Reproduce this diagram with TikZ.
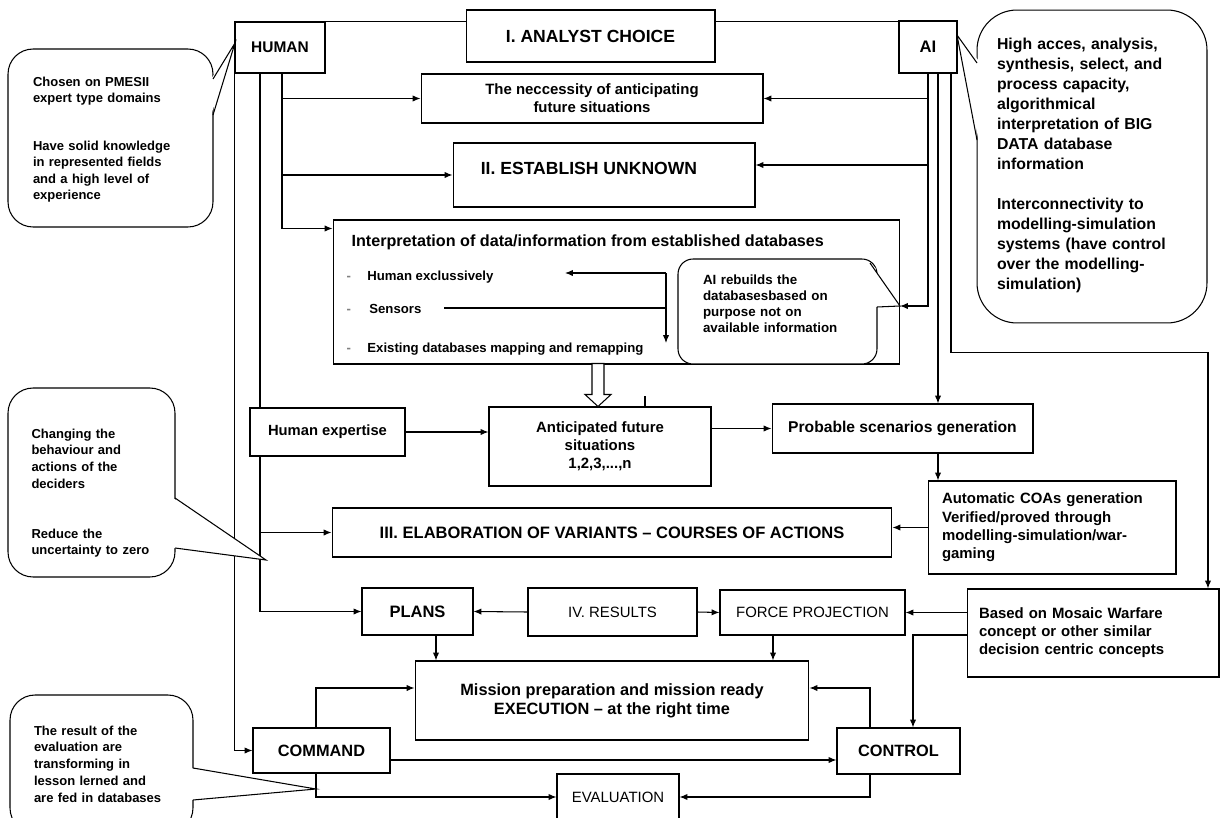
\documentclass[tikz,border=0pt]{standalone}
\usepackage{fontspec}
\setmainfont{Liberation Sans}
\usetikzlibrary{arrows.meta}
\newcommand{\fsz}[2]{\fontsize{#1}{#2}\selectfont}

\begin{document}
\begin{tikzpicture}
	[x=0.02cm, y=-0.02cm, line width=0.6pt,
	box/.style={draw, fill=white, align=center, inner sep=1pt},
	call/.style={draw, fill=white, align=left, rounded corners=0.5cm, inner sep=0pt},
	txt/.style={inner sep=0pt, anchor=west},
	arr/.style={-{Latex[length=4.5pt,width=3.6pt]}}]
	\fill[white] (0,0) rectangle (1221,818);
	\useasboundingbox (0,0) rectangle (1221,818);

	% top row
	\node[box, minimum width=1.8cm, minimum height=1.02cm, font=\fsz{8.8}{10}\bfseries] (human) at (280,47.5) {HUMAN};
	\node[box, minimum width=4.98cm, minimum height=1.04cm, font=\fsz{10}{12}\bfseries] (analyst) at (590.5,36) {I. ANALYST CHOICE};
	\node[box, minimum width=1.16cm, minimum height=1.04cm, font=\fsz{9.5}{11}\bfseries] (ai) at (928,47) {AI};
	\draw (human.north east) -- (human.north east -| analyst.west);
	\draw (human.north east -| analyst.east) -- (human.north east -| ai.west);

	% stages
	\node[box, minimum width=6.84cm, minimum height=0.98cm, font=\fsz{8.5}{10.2}\bfseries] (need) at (592,98.5) {The neccessity of anticipating\\future situations};
	\node[box, minimum width=6.04cm, minimum height=1.28cm] (unknown) at (604,175) {};
	\node[font=\fsz{10}{12}\bfseries, inner sep=0pt] (unknowntxt) at (589,168) {II. ESTABLISH UNKNOWN};
	\node[box, minimum width=11.34cm, minimum height=2.88cm] (interp) at (616.5,292) {};
	\node[txt, font=\fsz{9.2}{11}\bfseries] (interptitle) at (351,242) {Interpretation of data/information from established databases};
	\node[txt, font=\fsz{7.5}{9}\bfseries] (hum) at (346,277) {\textcolor{gray}{-}\hspace{9.4pt}Human exclussively};
	\node[txt, font=\fsz{7.5}{9}\bfseries] (sens) at (346,309) {\textcolor{gray}{-}\hspace{10.5pt}Sensors};
	\node[txt, font=\fsz{7.5}{9}\bfseries] (exist) at (346,349) {\textcolor{gray}{-}\hspace{9.4pt}Existing databases mapping and remapping};
	\coordinate (vx) at (666,273);
	\draw[arr] (vx) -- (565,273);
	\draw[arr] (vx) -- (666,343);
	\draw (444,308) -- (666,308);

	\node[call, rounded corners=0.3cm, minimum width=3.98cm, minimum height=2.1cm, text width=2.98cm, font=\fsz{7.6}{9.1}\bfseries] (aicall) at (777.5,311.5) {AI rebuilds the\\databasesbased on\\purpose not on\\available information\\\mbox{}};
	\coordinate (aitip) at (900,306);
	\fill[white] (869,262) -- (aitip) -- (875.5,307) -- (875.5,268) -- cycle;
	\draw (870,263) -- (aitip) -- (877,307);

	\node[box, minimum width=3.1cm, minimum height=0.96cm, font=\fsz{8.4}{10}\bfseries] (expertise) at (327.5,432) {Human expertise};
	\node[box, minimum width=4.44cm, minimum height=1.58cm, font=\fsz{8.5}{10.2}\bfseries] (anticip) at (600,446.5) {Anticipated future\\situations\\1,2,3,...,n};
	\node[box, minimum width=5.22cm, minimum height=0.98cm, font=\fsz{8.9}{10.5}\bfseries] (probable) at (902.5,428.5) {Probable scenarios generation};
	\node[box, minimum width=4.96cm, minimum height=1.86cm, text width=4.4cm, align=left, font=\fsz{8.5}{10.4}\bfseries] (coas) at (1052,527.5) {Automatic COAs generation\\Verified/proved through\\modelling-simulation/war-\\gaming};
	\node[box, minimum width=11.2cm, minimum height=0.98cm, font=\fsz{9.4}{11}\bfseries] (elab) at (612,532.5) {III. ELABORATION OF VARIANTS -- COURSES OF ACTIONS};

	\node[box, minimum width=2.22cm, minimum height=0.94cm, font=\fsz{9.4}{11}\bfseries] (plans) at (417.5,611.5) {PLANS};
	\node[box, minimum width=3.38cm, minimum height=0.96cm, font=\fsz{8.5}{10}] (results) at (612.5,612) {IV. RESULTS};
	\node[box, minimum width=3.7cm, minimum height=0.9cm, font=\fsz{8.5}{10}] (force) at (812.5,612.5) {FORCE PROJECTION};
	\node[box, minimum width=5.04cm, minimum height=1.76cm, text width=4.56cm, align=left, font=\fsz{8.5}{10.2}\bfseries] (mosaic) at (1093,633) {Based on Mosaic Warfare\\concept or other similar\\decision centric concepts};
	\node[box, minimum width=7.88cm, minimum height=1.58cm, font=\fsz{9.3}{10.8}\bfseries] (mission) at (612,700.5) {Mission preparation and mission ready\\EXECUTION -- at the right time};
	\node[box, minimum width=2.74cm, minimum height=0.9cm, font=\fsz{9.3}{11}\bfseries] (command) at (321.5,750.5) {COMMAND};
	\node[box, minimum width=2.46cm, minimum height=0.92cm, font=\fsz{9.3}{11}\bfseries] (control) at (898.5,751) {CONTROL};
	\node[box, minimum width=2.44cm, minimum height=0.92cm, font=\fsz{8.5}{10}] (evaluation) at (618,797) {EVALUATION};

	% hollow arrow
	\coordinate (dtip) at ([xshift=-0.04cm]anticip.north);
	\draw[fill=white] (dtip) -- ++(-13,-12) -- ++(7,0) -- ++(0,-31) -- ++(12,0) -- ++(0,31) -- ++(7,0) -- cycle;
	\draw ([xshift=0.9cm]anticip.north) -- ++(0,-10);

	% human lines
	\coordinate (hA) at (human.south west);
	\coordinate (hB) at ([xshift=-0.4cm]human.south);
	\coordinate (hC) at ([xshift=0.04cm]human.south);
	\coordinate (ip) at ([yshift=-0.18cm]interp.north west);
	\draw[arr] (hC) |- (ip);
	\draw[arr] (hC |- need.west) -- (need.west);
	\draw[arr] (hC |- unknown.west) -- (unknown.west);
	\draw (hB) -- (hB |- expertise.north);
	\draw[arr] (hB |- expertise.south) |- (plans.west);
	\draw[arr] (hB |- elab.west) -- (elab.west);
	\draw[arr] (hA) |- (command.west);

	% ai lines
	\coordinate (aA) at (ai.south);
	\coordinate (aB) at ([xshift=0.2cm]ai.south);
	\coordinate (aC) at ([xshift=0.46cm]ai.south);
	\coordinate (ukr) at ([yshift=0.2cm]unknown.east);
	\coordinate (mtop) at ([xshift=2.3cm]mosaic.north);
	\draw[arr] (aA) |- (aitip);
	\draw[arr] (aA |- need.east) -- (need.east);
	\draw[arr] (aA |- ukr) -- (ukr);
	\draw[arr] (aB) -- (aB |- probable.north);
	\draw[arr] (aB |- probable.south) -- (aB |- coas.north);
	\draw[arr] (aC) -- ++(0,279) -| (mtop);

	% flow
	\draw[arr] (expertise.east) -- (expertise.east -| anticip.west);
	\draw[arr] (probable.west -| anticip.east) -- (probable.west);
	\draw[arr] (coas.west) -- (coas.west -| elab.east);
	\draw[arr] (results.west) -- (plans.east);
	\draw[arr] (results.east) -- (force.west);
	\draw[arr] (force.east -| mosaic.west) -- (force.east);
	\coordinate (ctop) at ([xshift=0.29cm]control.north);
	\coordinate (mlow) at ([yshift=-0.04cm]mosaic.west);
	\draw[arr] (mlow) -| (ctop);
	\coordinate (pd) at ([xshift=0.37cm]plans.south);
	\coordinate (fd) at ([xshift=-0.79cm]force.south);
	\draw[arr] (pd) -- (pd |- mission.north);
	\draw[arr] (fd) -- (fd |- mission.north);
	\coordinate (cu) at ([xshift=-0.11cm]command.north);
	\coordinate (mw) at ([yshift=0.25cm]mission.west);
	\coordinate (ku) at ([xshift=-0.57cm]control.north);
	\coordinate (me) at ([yshift=0.25cm]mission.east);
	\draw[arr] (cu) |- (mw);
	\draw[arr] (ku) |- (me);
	\coordinate (ce) at ([yshift=-0.19cm]command.east);
	\draw[arr] (ce) -- (ce -| control.west);
	\coordinate (cd) at ([xshift=-0.11cm]command.south);
	\coordinate (kd) at ([xshift=-0.57cm]control.south);
	\draw[arr] (cd) |- (evaluation.west);
	\draw[arr] (kd) |- (evaluation.east);

	% callouts
	\node[call, minimum width=4.1cm, minimum height=3.56cm, text width=3.1cm, font=\fsz{7.4}{9.2}\bfseries] (calla) at (110.5,138) {\mbox{}\\[-2.4pt]Chosen on PMESII\\expert type domains\\[2\baselineskip]Have solid knowledge\\in represented fields\\and a high level of\\experience};
	\fill[white] (211,79) -- (235,43) -- (211,115) -- cycle;
	\draw (213,79) -- (235,43) -- (213,115);

	\node[call, minimum width=3.34cm, minimum height=3.78cm, text width=2.4cm, font=\fsz{7.4}{9.5}\bfseries] (callb) at (91.5,482.5) {\mbox{}\\[8pt]Changing the\\behaviour and\\actions of the\\deciders\\[2\baselineskip]Reduce the\\uncertainty to zero};
	\fill[white] (173,498) -- (266,560) -- (173,548) -- cycle;
	\draw (175,498) -- (266,560) -- (175,548);

	\node[call, minimum width=3.66cm, minimum height=2.76cm, text width=2.7cm, font=\fsz{7.4}{9.5}\bfseries] (callc) at (101.5,764) {The result of the\\evaluation are\\transforming in\\lesson lerned and\\are fed in databases};
	\fill[white] (191,768) -- (316,789) -- (191,800) -- cycle;
	\draw (193,768) -- (316,789) -- (193,800);

	\node[call, rounded corners=0.8cm, minimum width=4.6cm, minimum height=6.26cm, text width=3.8cm, font=\fsz{9}{11.4}\bfseries] (calld) at (1092,166.5) {\mbox{}\\[-6.3pt]High acces, analysis,\\synthesis, select, and\\process capacity,\\algorithmical\\interpretation of BIG\\DATA database\\information\\[\baselineskip]Interconnectivity to\\modelling-simulation\\systems (have control\\over the modelling-\\simulation)};
	\fill[white] (979,61) -- (957,35) -- (979,142) -- cycle;
	\draw (977,63) -- (957,35) -- (977,140);
\end{tikzpicture}
\end{document}
